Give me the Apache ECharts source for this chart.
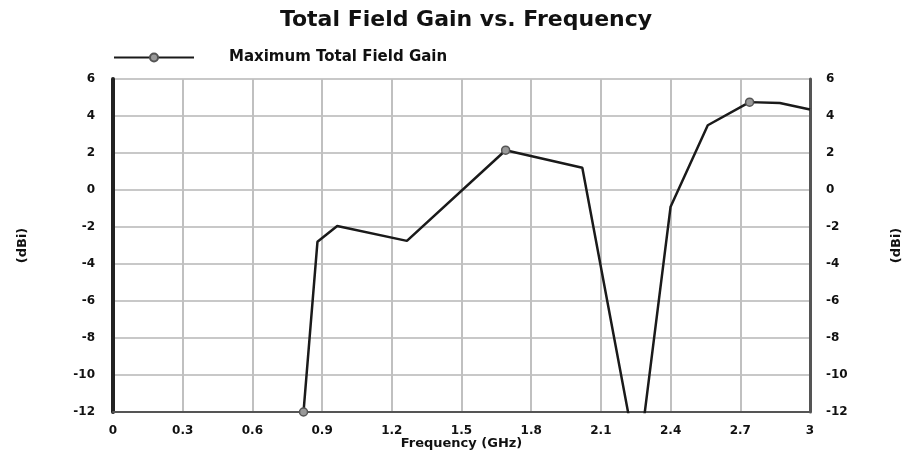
<!DOCTYPE html>
<html>
<head>
<meta charset="utf-8">
<script src="https://cdn.jsdelivr.net/npm/echarts@6/dist/echarts.min.js"></script>
<style>
html, body { margin: 0; padding: 0; background: #fff; }
#main { width: 911px; height: 455px; }
</style>
</head>
<body>
<div id="main"></div>
<script>
// values
const freqGHz = [0.82, 0.88, 0.965, 1.265, 1.69, 2.02, 2.26, 2.40, 2.56, 2.74, 2.87, 3.0];
const gainDbi = [-12, -2.8, -1.95, -2.75, 2.15, 1.2, -14.9, -0.9, 3.5, 4.75, 4.7, 4.35];
const markerIdx = [0, 4, 9];  // points that carry a circle marker
const yTicks = [-12, -10, -8, -6, -4, -2, 0, 2, 4, 6];

const fontFam = 'DejaVu Sans';

const lineData = freqGHz.map((f, i) => ({
    value: [f, gainDbi[i]],
    symbol: markerIdx.includes(i) ? 'circle' : 'none'
}));

function yAxisCfg(pos) {
    return {
        type: 'value',
        position: pos,
        min: yTicks[0],
        max: yTicks[yTicks.length - 1],
        interval: 2,
        name: '(dBi)',
        nameLocation: 'middle',
        nameRotate: 90,
        nameGap: pos == 'left' ? 84 : 80,
        nameTextStyle: { fontFamily: fontFam, fontWeight: 'bold', fontSize: 13, color: '#111' },
        axisLine: { show: true, onZero: false, lineStyle: { color: pos == 'left' ? '#222' : '#555', width: pos == 'left' ? 4 : 3 } },
        axisTick: { show: false },
        axisLabel: {
            margin: pos == 'left' ? 18 : 16,
            fontFamily: fontFam, fontWeight: 'bold', fontSize: 12, color: '#111'
        },
        splitLine: { show: pos == 'left', lineStyle: { color: '#c8c8c8', width: 2 } }
    };
}

const myEcharts = echarts.init(document.getElementById('main'));
const option = {
    backgroundColor: '#fff',
    animation: false,
    title: {
        text: 'Total Field Gain vs. Frequency',
        left: 461, textAlign: 'center',
        top: 4,
        textStyle: { fontFamily: fontFam, fontWeight: 'bold', fontSize: 22, color: '#111' }
    },
    legend: {
        left: 108, top: 45,
        itemWidth: 80, itemHeight: 10,
        data: ['Maximum Total Field Gain'],
        textStyle: { fontFamily: fontFam, fontWeight: 'bold', fontSize: 15, color: '#111', padding: [0, 0, 0, 30] }
    },
    grid: {
        left: 113, right: 101, top: 79, bottom: 43,
        outerBoundsMode: 'none',
        show: true, borderColor: '#666', borderWidth: 2
    },
    xAxis: {
        type: 'value',
        min: 0, max: 3, interval: 0.3,
        name: 'Frequency (GHz)',
        nameLocation: 'middle',
        nameGap: 25,
        nameMoveOverlap: false,
        nameTextStyle: { fontFamily: fontFam, fontWeight: 'bold', fontSize: 13, color: '#111' },
        axisLine: { onZero: false, lineStyle: { color: '#555', width: 2 } },
        axisTick: { show: false },
        axisLabel: {
            margin: 13,
            fontFamily: fontFam, fontWeight: 'bold', fontSize: 12, color: '#111',
            formatter: v => (v == 0 || v == 3) ? String(v) : v.toFixed(1)
        },
        splitLine: { show: true, lineStyle: { color: '#c0c0c0', width: 2 } }
    },
    yAxis: [yAxisCfg('left'), yAxisCfg('right')],
    series: [
        {
            name: 'Maximum Total Field Gain',
            type: 'line',
            data: lineData,
            symbol: 'circle',
            symbolSize: 8,
            showSymbol: true,
            clip: true,
            lineStyle: { color: '#1a1a1a', width: 2.5 },
            itemStyle: { color: '#999', borderColor: '#555', borderWidth: 1.5 }
        }
    ]
};
myEcharts.setOption(option);
window.addEventListener('resize', () => { myEcharts.resize(); });
</script>
</body>
</html>
